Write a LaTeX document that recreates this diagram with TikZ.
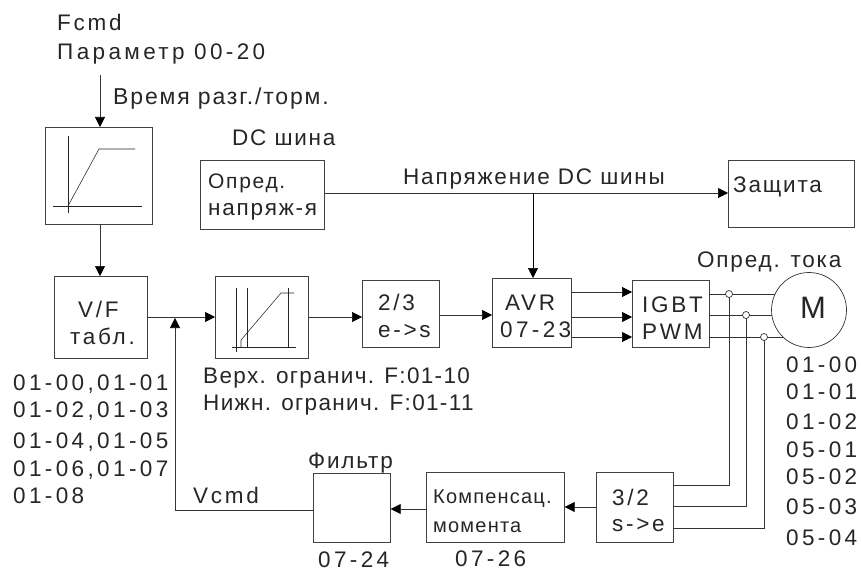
\documentclass[tikz,border=0pt]{standalone}
\usepackage{fontspec}
\setmainfont[LetterSpace=12]{Liberation Sans}
\newfontfamily\tightfont[LetterSpace=6]{Liberation Sans}
\newfontfamily\midfont[LetterSpace=8]{Liberation Sans}
\newfontfamily\numfont[LetterSpace=15]{Liberation Sans}
\usetikzlibrary{arrows.meta}
\tikzset{
  x=1pt,y=-1pt,
  bx/.style={draw=black!75,line width=0.7pt,fill=none,inner sep=0pt,anchor=north west},
  ln/.style={draw=black!80,line width=0.7pt},
  ar/.style={ln,-{Triangle[length=10pt,width=10pt,black]}},
  thin2/.style={draw=black!85,line width=0.55pt},
  txt/.style={font=\fontsize{22.5}{24}\selectfont,inner sep=0pt,text=black!85},
  tl/.style={txt,anchor=base west},
  small/.style={tl,font=\tightfont\fontsize{20}{22}\selectfont},
  cyr/.style={tl,font=\midfont\fontsize{22.5}{24}\selectfont},
  cyrt/.style={tl,font=\tightfont\fontsize{22.5}{24}\selectfont},
  num/.style={tl,font=\numfont\fontsize{22.5}{24}\selectfont},
  tap/.style={circle,draw=black!80,fill=white,line width=0.7pt,minimum size=7pt,inner sep=0pt},
}
\newcommand{\bxat}[5]{\node[bx,minimum width=#4 pt,minimum height=#5 pt] (#1) at (#2,#3) {};}
\begin{document}
\begin{tikzpicture}
\useasboundingbox (0,0) rectangle (861,572);
\fill[white] (0,0) rectangle (861,572);
% boxes
\bxat{ramp}{45}{127}{107}{97}
\bxat{dc}{200}{160}{124}{69}
\bxat{prot}{728}{160}{126}{67}
\bxat{vf}{54}{276}{93}{82}
\bxat{lim}{215}{276}{93}{82}
\bxat{conv}{362}{280}{77}{67}
\bxat{avr}{492}{278}{79}{69}
\bxat{igbt}{632}{280}{77}{67}
\bxat{filt}{313}{473}{77}{69}
\bxat{comp}{426}{472}{138}{70}
\bxat{tr}{596}{472}{77}{70}
% coordinates
\coordinate (top) at (100,75);
\coordinate (dcj) at (533,193);
\coordinate (sum) at (175,318);
\coordinate (corn) at (175,510);
\coordinate (t1) at (729,294);
\coordinate (t2) at (746,315);
\coordinate (t3) at (764,337);
\coordinate (mc) at (809,310);
% connectors
\draw[ar] (top) -- (ramp.north -| top);
\draw[ar] (ramp.south -| top) -- (vf.north -| top);
\draw[ln] (dc.east |- dcj) -- (dcj);
\draw[ar] (dcj) -- (prot.west |- dcj);
\draw[ar,draw=black] (dcj) -- (avr.north -| dcj);
\draw[ar] (vf.east |- 0,317) -- (lim.west |- 0,317);
\draw[ar] (lim.east |- 0,317) -- (conv.west |- 0,317);
\draw[ar] (conv.east |- 0,315) -- (avr.west |- 0,315);
\draw[ar] (avr.east |- 0,292) -- (igbt.west |- 0,292);
\draw[ar] (avr.east |- 0,317) -- (igbt.west |- 0,317);
\draw[ar] (avr.east |- 0,337) -- (igbt.west |- 0,337);
\draw[ln] (igbt.east |- t1) -- (mc |- t1);
\draw[ln] (igbt.east |- t2) -- (mc |- t2);
\draw[ln] (igbt.east |- t3) -- (mc |- t3);
\node[circle,draw=black!80,fill=white,line width=0.7pt,minimum size=75pt,inner sep=0pt] (m) at (mc) {};
\draw[ln] (tr.east |- 0,485) -- (t1 |- 0,485) -- (t1);
\draw[ln] (tr.east |- 0,506) -- (t2 |- 0,506) -- (t2);
\draw[ln] (tr.east |- 0,528) -- (t3 |- 0,528) -- (t3);
\node[tap] (n1) at (t1) {};
\node[tap] (n2) at (t2) {};
\node[tap] (n3) at (t3) {};
\draw[ar] (tr.west |- 0,507) -- (comp.east |- 0,507);
\draw[ar] (comp.west |- 0,509) -- (filt.east |- 0,509);
\draw[ln] (filt.west |- corn) -- (corn);
\draw[ar] (corn) -- (sum);
% ramp graph
\draw[thin2] (68,136) -- (68,213);
\draw[thin2] (53,206) -- (142,206);
\draw[thin2] (68,206) -- (99,149) -- (135,149);
% limiter graph
\draw[thin2] (236.5,288) -- (236.5,352);
\draw[thin2] (247,288) -- (247,347);
\draw[thin2] (288,288) -- (288,347);
\draw[thin2] (232,347) -- (296,347);
\draw[thin2] (241,347) -- (241,340) -- (281,293) -- (294,293);
% text
\node[tl] (l1) at (57,31) {Fcmd};
\node[num] (l2) at (57,60) {Параметр 00-20};
\node[tl,font=\midfont\fontsize{23}{24}\selectfont] (l3) at (113,105) {Время разг./торм.};
\node[cyr] (l4) at (232,146) {DC шина};
\node[small,font=\midfont\fontsize{21}{22}\selectfont] (l5) at (208,188) {Опред.};
\node[cyr] (l6) at (208,215) {напряж-я};
\node[cyr] (l7) at (403,185) {Напряжение DC шины};
\node[cyr] (l8) at (733,193) {Защита};
\node[cyr] (l9) at (697,267) {Опред. тока};
\node[txt,font=\fontsize{31}{33}\selectfont,anchor=base] (l10) at (813,318) {M};
\node[tl] (l11) at (78,317) {V/F};
\node[tl] (l12) at (70,344) {табл.};
\node[tl] (l13) at (378,310) {2/3};
\node[tl] (l14) at (378,337) {e->s};
\node[tl] (l15) at (505,310) {AVR};
\node[num] (l16) at (500,337) {07-23};
\node[tl] (l17) at (642,312) {IGBT};
\node[tl] (l18) at (642,339) {PWM};
\node[num] (l19) at (13,390) {01-00,01-01};
\node[num] (l20) at (13,417) {01-02,01-03};
\node[num] (l21) at (13,448) {01-04,01-05};
\node[num] (l22) at (13,476) {01-06,01-07};
\node[num] (l23) at (13,503) {01-08};
\node[cyrt] (l24) at (203,383) {Верх. огранич. F:01-10};
\node[cyrt] (l25) at (203,410) {Нижн. огранич. F:01-11};
\node[cyr] (l26) at (308,468) {Фильтр};
\node[tl] (l27) at (193,503) {Vcmd};
\node[num] (l28) at (318,567) {07-24};
\node[small] (l29) at (433,503) {Компенсац.};
\node[small] (l30) at (433,532) {момента};
\node[num] (l31) at (455,566) {07-26};
\node[tl] (l32) at (612,505) {3/2};
\node[tl] (l33) at (612,531) {s->e};
\node[num] (l34) at (786,372) {01-00};
\node[num] (l35) at (786,399) {01-01};
\node[num] (l36) at (786,429) {01-02};
\node[num] (l37) at (786,457) {05-01};
\node[num] (l38) at (786,484) {05-02};
\node[num] (l39) at (786,514) {05-03};
\node[num] (l40) at (786,545) {05-04};
\end{tikzpicture}
\end{document}
